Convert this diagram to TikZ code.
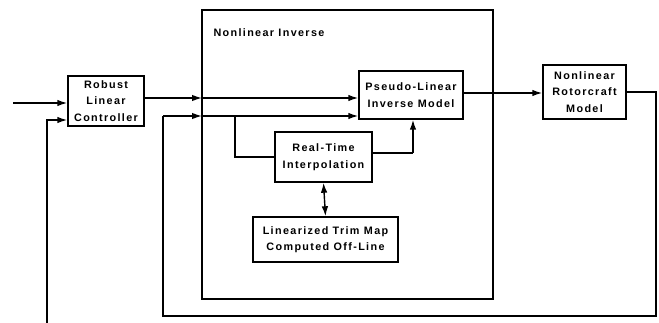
\documentclass[tikz,border=0pt]{standalone}
\usepackage{fontspec}
\setmainfont{Liberation Sans}[LetterSpace=12.5]
\usetikzlibrary{arrows.meta}
\begin{document}
\begin{tikzpicture}[x=1pt,y=-1pt,
  blk/.style={draw,line width=1.4pt,rectangle,inner sep=0pt,align=center,font=\fontsize{10.8}{16.5}\selectfont\bfseries},
  wire/.style={line width=1.4pt},
  arr/.style={wire,-{Latex[length=10pt,width=6.5pt]}},
  darr/.style={wire,{Latex[length=10pt,width=6.5pt]}-{Latex[length=10pt,width=6.5pt]}}]
\useasboundingbox (0,0) rectangle (659,323);
% outer box
\draw[wire] (202,10) rectangle (493,299);
\node[anchor=base west,font=\fontsize{10.8}{13}\selectfont\bfseries] (lab) at (210,37) {Nonlinear Inverse};
% blocks
\node[blk,minimum width=76pt,minimum height=50pt] (ctrl) at (106,101) {Robust\\Linear\\Controller};
\node[blk,minimum width=104pt,minimum height=48pt] (pseudo) at (411,95) {Pseudo-Linear\\Inverse Model};
\node[blk,minimum width=83pt,minimum height=54pt] (rotor) at (584.5,92) {Nonlinear\\Rotorcraft\\Model};
\node[blk,minimum width=97pt,minimum height=50pt] (rti) at (323.5,157) {Real-Time\\Interpolation};
\node[blk,minimum width=145pt,minimum height=45pt] (trim) at (325.5,239.5) {Linearized Trim Map\\Computed Off-Line};
% coordinates
\coordinate (in) at (13,103);
\coordinate (fb1) at (47,324);
\coordinate (b1) at (202,98);
\coordinate (b2) at (202,116);
\coordinate (br) at (235,116);
\coordinate (rr) at (413,153);
\coordinate (c1) at (656,92);
\coordinate (c2) at (656,316);
\coordinate (c3) at (163,316);
% connectors
\draw[arr] (in) -- (in -| ctrl.west);
\draw[arr] (fb1) -- (47,120) -- (47,120 -| ctrl.west);
\draw[arr] (ctrl.east |- b1) -- (b1);
\draw[arr] (b1) -- (b1 -| pseudo.west);
\draw[wire] (rotor.east |- c1) -- (c1) -- (c2) -- (c3) -- (c3 |- b2);
\draw[arr] (c3 |- b2) -- (b2);
\draw[arr] (b2) -- (b2 -| pseudo.west);
\draw[wire] (br) -- (br |- rti.west) -- (rti.west);
\draw[wire] (rti.east |- rr) -- (rr);
\draw[arr] (rr) -- (rr |- pseudo.south);
\draw[darr] (rti.south) -- (trim.north);
\draw[arr] (pseudo.east |- 0,93) -- (rotor.west |- 0,93);
\end{tikzpicture}
\end{document}
